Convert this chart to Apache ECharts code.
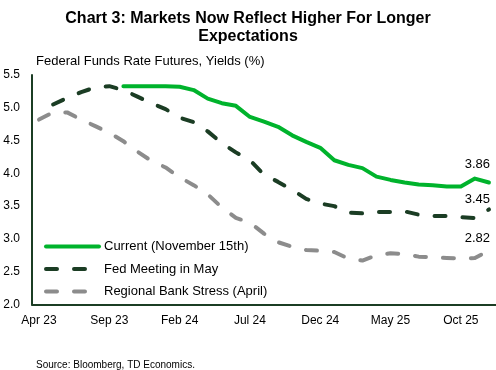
<!DOCTYPE html>
<html>
<head>
<meta charset="utf-8">
<script src="https://cdn.jsdelivr.net/npm/echarts@6/dist/echarts.min.js"></script>
<style>
html,body{margin:0;padding:0;background:#fff;}
#c{width:496px;height:370px;}
</style>
</head>
<body>
<div id="c"></div>
<script>
var months = ['Apr 23','May 23','Jun 23','Jul 23','Aug 23','Sep 23','Oct 23','Nov 23','Dec 23',
  'Jan 24','Feb 24','Mar 24','Apr 24','May 24','Jun 24','Jul 24','Aug 24','Sep 24','Oct 24','Nov 24','Dec 24',
  'Jan 25','Feb 25','Mar 25','Apr 25','May 25','Jun 25','Jul 25','Aug 25','Sep 25','Oct 25','Nov 25','Dec 25'];
var current = [null,null,null,null,null,null,5.33,5.33,5.33,5.33,5.32,5.27,5.14,5.07,5.03,4.86,4.79,4.71,4.58,4.48,4.39,
  4.20,4.13,4.08,3.95,3.90,3.86,3.83,3.82,3.80,3.80,3.92,3.86];
var fedMay = [null,5.05,5.15,5.24,5.31,5.33,5.27,5.17,5.07,4.98,4.85,4.78,4.64,4.46,4.32,4.20,3.98,3.87,3.75,3.61,3.54,
  3.50,3.40,3.39,3.41,3.41,3.42,3.37,3.35,3.35,3.33,3.32,3.45];
var bankStress = [4.82,4.93,4.93,4.82,4.72,4.62,4.49,4.33,4.19,4.09,3.94,3.82,3.68,3.48,3.32,3.25,3.08,2.95,2.88,2.83,2.82,
  2.80,2.70,2.67,2.75,2.78,2.77,2.73,2.72,2.71,2.70,2.71,2.82];
var seriesNames = ['Current (November 15th)','Fed Meeting in May','Regional Bank Stress (April)'];
var endLabels = ['3.86','3.45','2.82'];

var FONT = 'Liberation Sans, Arial, sans-serif';
var chart = echarts.init(document.getElementById('c'), null, {renderer:'canvas'});
var dash = [11,17];
function mk(name, data, color, dashed, lbl, offY){
  return {
    name: name, type:'line', data: data, showSymbol:false, symbol:'none', connectNulls:false,
    lineStyle:{color:color, width:4, type: dashed ? dash : 'solid', cap:'round', join:'round'},
    itemStyle:{color:color},
    emphasis:{disabled:true},
    endLabel:{show:true, formatter: lbl, color:'#000', fontSize:13, fontFamily:FONT,
      align:'right', verticalAlign:'middle', distance:5, offset:[-4, offY]},
    z: dashed ? 2 : 3
  };
}
chart.setOption({
  animation:false,
  backgroundColor:'#fff',
  title:[
    {text:'Chart 3: Markets Now Reflect Higher For Longer\nExpectations', left:'center', top:5,
     textStyle:{fontFamily:FONT, fontSize:16, fontWeight:'bold', color:'#000', lineHeight:18}},
    {text:'Federal Funds Rate Futures, Yields (%)', left:31, top:50,
     textStyle:{fontFamily:FONT, fontSize:13, fontWeight:'normal', color:'#000'}},
    {text:'Source: Bloomberg, TD Economics.', left:31, top:355,
     textStyle:{fontFamily:FONT, fontSize:10, fontWeight:'normal', color:'#000'}}
  ],
  grid:{left:32, right:0, top:75, bottom:65.5, containLabel:false},
  legend:{
    orient:'vertical', left:39, top:235, itemWidth:53, itemHeight:14, itemGap:9.5,
    itemStyle:{opacity:0},
    lineStyle:{width:4, cap:'round'},
    textStyle:{fontFamily:FONT, fontSize:13, color:'#000'},
    data: seriesNames, selectedMode:false
  },
  xAxis:{
    type:'category', data: months, boundaryGap:true,
    axisLine:{show:true, lineStyle:{color:'#1b3d24', width:2}},
    axisTick:{show:false},
    axisLabel:{interval:4, color:'#000', fontSize:12, fontFamily:FONT, margin:10}
  },
  yAxis:{
    type:'value', min:2, max:5.5, interval:0.5,
    axisLine:{show:true, lineStyle:{color:'#1b3d24', width:2}},
    axisTick:{show:false}, splitLine:{show:false},
    axisLabel:{color:'#000', fontSize:12, fontFamily:FONT, margin:12, formatter:function(v){return v.toFixed(1);}}
  },
  series:[
    mk(seriesNames[0], current, '#00b32c', false, endLabels[0], -18),
    mk(seriesNames[1], fedMay, '#1b3d24', true, endLabels[1], -10),
    mk(seriesNames[2], bankStress, '#8c8c8c', true, endLabels[2], -12)
  ]
});
</script>
</body>
</html>
